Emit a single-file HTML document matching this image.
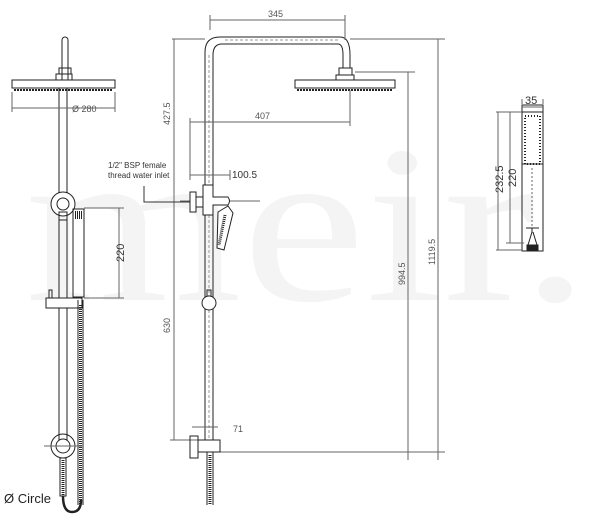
<!DOCTYPE html>
<html><head><style>body{margin:0;background:#fff}svg{display:block}</style></head><body>
<svg width="600" height="521" viewBox="0 0 600 521" xmlns="http://www.w3.org/2000/svg" font-family="Liberation Sans, sans-serif">
<text x="25" y="300" font-family="Liberation Serif, serif" font-size="225" fill="#f4f4f4" textLength="565" lengthAdjust="spacingAndGlyphs">meir.</text>
<g stroke="#222" fill="none" stroke-width="1">
<path d="M62 80 V40 a3 3 0 0 1 6 0 V80"/>
<rect x="59" y="68" width="12" height="6"/><rect x="56" y="74" width="16" height="6"/>
<rect x="12" y="80" width="103" height="8"/>
<line x1="14" y1="90" x2="113" y2="90" stroke-width="2" stroke-dasharray="2 1"/>
<line x1="59" y1="88" x2="59" y2="440"/><line x1="67" y1="88" x2="67" y2="440"/>
<line x1="12" y1="92" x2="12" y2="112" stroke="#666"/><line x1="115" y1="92" x2="115" y2="112" stroke="#666"/>
<line x1="12" y1="108" x2="115" y2="108" stroke="#666"/>
<circle cx="63" cy="204" r="12" fill="#fff"/><circle cx="63" cy="204" r="6"/>
<rect x="59" y="212" width="8" height="8"/>
<rect x="73" y="209" width="11" height="88"/>
<line x1="75" y1="215" x2="82" y2="215" stroke-dasharray="1 1" stroke-width="8"/>
<line x1="84" y1="208" x2="124" y2="208" stroke="#666"/><line x1="84" y1="298" x2="124" y2="298" stroke="#666"/>
<line x1="119" y1="208" x2="119" y2="298" stroke="#666"/>
<rect x="46" y="298" width="36" height="10" fill="#fff"/><rect x="49" y="290" width="3" height="8"/>
<path d="M78 300 V505 M83 300 V505" stroke-width="1"/>
<line x1="80.5" y1="305" x2="80.5" y2="505" stroke-width="3" stroke-dasharray="1 1"/>
<circle cx="63" cy="446" r="12"/><circle cx="63" cy="446" r="7"/>
<line x1="44" y1="446" x2="82" y2="446" stroke="#666"/>
<rect x="60" y="458" width="6" height="38" fill="#fff"/><line x1="63" y1="460" x2="63" y2="496" stroke-width="3" stroke-dasharray="1 1"/>
<path d="M63 496 Q63 512 72 512 Q81 512 81 500" stroke-width="2.5"/>
<path d="M205 440 V52 Q205 37 220 37 H340 Q350 37 350 55 V68"/>
<path d="M213 440 V55 Q213 44 222 44 H338 Q343 44 343 55 V68"/>
<line x1="225" y1="40" x2="338" y2="40" stroke-dasharray="3 2" stroke="#999"/>
<line x1="209" y1="55" x2="209" y2="440" stroke-dasharray="3 2" stroke="#999"/>
<rect x="339" y="68" width="13" height="7"/><rect x="336" y="75" width="18" height="5"/>
<rect x="295" y="80" width="100" height="8"/>
<line x1="297" y1="90" x2="393" y2="90" stroke-width="2" stroke-dasharray="2 1"/>
<g stroke="#666">
<line x1="210" y1="15" x2="210" y2="30"/><line x1="345" y1="15" x2="345" y2="40"/><line x1="210" y1="20" x2="345" y2="20"/>
<line x1="190" y1="118" x2="190" y2="180"/><line x1="190" y1="122" x2="350" y2="122"/><line x1="350" y1="90" x2="350" y2="126"/>
<line x1="172" y1="39" x2="205" y2="39"/><line x1="174" y1="39" x2="174" y2="440"/>
<line x1="350" y1="39" x2="445" y2="39"/><line x1="438" y1="39" x2="438" y2="460"/>
<line x1="355" y1="72" x2="415" y2="72"/><line x1="408" y1="72" x2="408" y2="460"/>
<line x1="170" y1="440" x2="200" y2="440"/><line x1="220" y1="452" x2="445" y2="452"/>
<line x1="190" y1="175" x2="230" y2="175"/><line x1="230" y1="170" x2="230" y2="180"/>
<line x1="192" y1="427" x2="218" y2="427"/>
<line x1="180" y1="201" x2="260" y2="201"/>
</g>
<path d="M144 186 V202 H190" stroke="#333"/>
<rect x="190" y="192" width="6" height="20" fill="#fff"/><rect x="196" y="197" width="8" height="10" fill="#fff"/>
<path d="M203 185 H213 V197 H228 Q231 201 228 205 H213 V215 H203 Z" fill="#fff"/>
<path d="M218 212 L228 206 L233 213 L224 250 L217 248 Z" fill="#fff"/>
<line x1="225" y1="215" x2="219" y2="245" stroke-width="3" stroke-dasharray="1 1"/>
<rect x="207" y="290" width="4" height="7"/><circle cx="209" cy="303" r="7" fill="#fff"/>
<rect x="190" y="436" width="8" height="22"/><rect x="198" y="440" width="22" height="12" fill="#fff"/>
<path d="M207 452 V505 M213 452 V505"/>
<line x1="210" y1="455" x2="210" y2="505" stroke-width="3" stroke-dasharray="1 1"/>
<rect x="522" y="105" width="21" height="146"/>
<line x1="522" y1="112" x2="543" y2="112"/>
<rect x="525" y="116" width="15" height="48" stroke-dasharray="1 2" stroke-width="2"/>
<line x1="522" y1="164" x2="543" y2="164"/>
<line x1="532" y1="168" x2="532" y2="228" stroke-dasharray="2 2" stroke="#666"/>
<path d="M526 228 H539 M532 228 V232 L528 245 H537 L533 232" />
<rect x="527" y="245" width="11" height="5" fill="#222"/>
<g stroke="#666">
<line x1="522" y1="104" x2="522" y2="99"/><line x1="543" y1="104" x2="543" y2="99"/><line x1="522" y1="107" x2="543" y2="107"/>
<line x1="496" y1="112" x2="522" y2="112"/><line x1="498" y1="112" x2="498" y2="250"/><line x1="496" y1="250" x2="522" y2="250"/>
<line x1="510" y1="112" x2="510" y2="243"/><line x1="506" y1="243" x2="524" y2="243"/>
</g>
</g>
<g fill="#333" font-size="9">
<text x="72" y="112" fill="#555">Ø 280</text>
<text x="268" y="17" fill="#555">345</text>
<text x="255" y="119" fill="#555">407</text>
<text transform="translate(170,125) rotate(-90)" fill="#555">427.5</text>
<text transform="translate(170,333) rotate(-90)" fill="#555">630</text>
<text transform="translate(405,285) rotate(-90)" fill="#555">994.5</text>
<text transform="translate(435,265) rotate(-90)" fill="#555">1119.5</text>
<text x="233" y="432" fill="#555">71</text>
<text x="108" y="168" font-size="8">1/2" BSP female</text>
<text x="108" y="178" font-size="8">thread water inlet</text>
<text x="232" y="178" font-size="10">100.5</text>
<text transform="translate(124,262) rotate(-90)" font-size="11">220</text>
<text x="525" y="104" font-size="11">35</text>
<text transform="translate(503,193) rotate(-90)" font-size="11">232.5</text>
<text transform="translate(516,187) rotate(-90)" font-size="11">220</text>
<text x="4" y="503" font-size="13" fill="#222">Ø Circle</text>
</g>
</svg>
</body></html>
